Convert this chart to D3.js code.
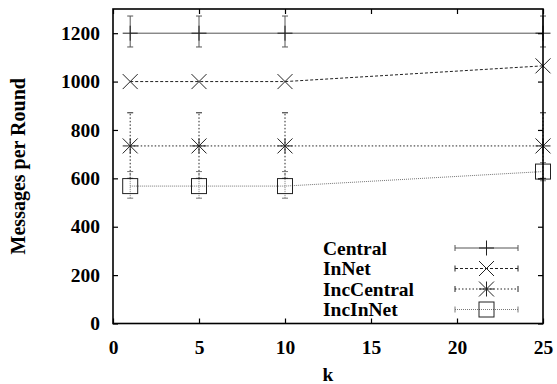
<!DOCTYPE html>
<html>
<head>
<meta charset="utf-8">
<script src="https://cdn.jsdelivr.net/npm/d3@7"></script>
<style>
  body { margin: 0; background: #fff; }
  text { font-family: "Liberation Serif", "Times New Roman", serif; font-weight: bold; }
</style>
</head>
<body>
<svg id="chart" width="557" height="384"></svg>
<script>
// data
var ks = [1, 5, 10, 25]

var central = [1200, 1200, 1200, 1200]
var centralLo = [1143, 1143, 1143, 1143]
var centralHi = [1271, 1271, 1271, 1271]

var inNet = [1000, 1000, 1000, 1065]

var incCentral = [734, 734, 734, 734]
var incCentralLo = [600, 600, 600, 600]
var incCentralHi = [871, 871, 871, 871]

var incInNet = [568, 568, 568, 628]
var incInNetLo = [518, 518, 518, 590]
var incInNetHi = [628, 628, 628, 665]

var xTicks = [0, 5, 10, 15, 20, 25]
var yTicks = [0, 200, 400, 600, 800, 1000, 1200]

var svg = d3.select('#chart')
var plotL = 113, plotR = 543, plotT = 9, plotB = 323.5

var x = d3.scaleLinear().domain([0, 25]).range([plotL, plotR])
var y = d3.scaleLinear().domain([0, 1300]).range([plotB, plotT])

// series styling
var series = [
    { name: 'Central', vals: central, lo: centralLo, hi: centralHi, dash: null, color: '#555', marker: 'plus' },
    { name: 'InNet', vals: inNet, lo: null, hi: null, dash: '3,2', color: '#222', marker: 'cross' },
    { name: 'IncCentral', vals: incCentral, lo: incCentralLo, hi: incCentralHi, dash: '1.5,2', color: '#222', marker: 'star' },
    { name: 'IncInNet', vals: incInNet, lo: incInNetLo, hi: incInNetHi, dash: '1,1', color: '#777', marker: 'square' }
]

function drawMarker(g, type, cx, cy) {
    var s = 7.5
    var p = g.append('g').attr('stroke', '#222').attr('stroke-width', 1).attr('fill', 'none')
    if (type === 'plus' || type === 'star') {
        p.append('line').attr('x1', cx - s).attr('x2', cx + s).attr('y1', cy).attr('y2', cy)
        p.append('line').attr('x1', cx).attr('x2', cx).attr('y1', cy - s).attr('y2', cy + s)
    }
    if (type === 'cross' || type === 'star') {
        p.append('line').attr('x1', cx - s).attr('x2', cx + s).attr('y1', cy - s).attr('y2', cy + s)
        p.append('line').attr('x1', cx - s).attr('x2', cx + s).attr('y1', cy + s).attr('y2', cy - s)
    }
    if (type === 'square') {
        p.append('rect').attr('x', cx - s).attr('y', cy - s).attr('width', 2 * s).attr('height', 2 * s)
    }
}

var plot = svg.append('g')

series.forEach(function(sr) {
    var line = d3.line()
        .x(function(d, i) { return x(ks[i]) })
        .y(function(d) { return y(d) })

    plot.append('path')
        .datum(sr.vals)
        .attr('d', line)
        .attr('fill', 'none')
        .attr('stroke', sr.color)
        .attr('stroke-width', 1)
        .attr('stroke-dasharray', sr.dash)

    if (sr.lo) {
        sr.vals.forEach(function(v, i) {
            var cx = x(ks[i])
            plot.append('line')
                .attr('x1', cx).attr('x2', cx)
                .attr('y1', y(sr.lo[i])).attr('y2', y(sr.hi[i]))
                .attr('stroke', sr.color).attr('stroke-width', 1)
                .attr('stroke-dasharray', sr.dash)
            ;[sr.lo[i], sr.hi[i]].forEach(function(e) {
                plot.append('line')
                    .attr('x1', cx - 3).attr('x2', cx + 3)
                    .attr('y1', y(e)).attr('y2', y(e))
                    .attr('stroke', sr.color).attr('stroke-width', 1)
            })
        })
    }

    sr.vals.forEach(function(v, i) {
        drawMarker(plot, sr.marker, x(ks[i]), y(v))
    })
})

// axes with mirrored ticks
var tickLen = 5
svg.append('g')
    .attr('transform', 'translate(0,' + plotB + ')')
    .call(d3.axisBottom(x).tickValues(xTicks).tickSize(-tickLen).tickPadding(tickLen + 12))
    .call(function(g) { g.select('.domain').remove() })
svg.append('g')
    .attr('transform', 'translate(0,' + plotT + ')')
    .call(d3.axisTop(x).tickValues(xTicks).tickSize(-tickLen).tickFormat(''))
    .call(function(g) { g.select('.domain').remove() })
svg.append('g')
    .attr('transform', 'translate(' + plotL + ',0)')
    .call(d3.axisLeft(y).tickValues(yTicks).tickSize(-tickLen).tickPadding(tickLen + 8).tickFormat(d3.format('d')))
    .call(function(g) { g.select('.domain').remove() })
svg.append('g')
    .attr('transform', 'translate(' + plotR + ',0)')
    .call(d3.axisRight(y).tickValues(yTicks).tickSize(-tickLen).tickFormat(''))
    .call(function(g) { g.select('.domain').remove() })

svg.selectAll('.tick line').attr('stroke', '#000').attr('stroke-width', 1.2)
svg.selectAll('.tick text')
    .style('font-family', '"Liberation Serif", "Times New Roman", serif')
    .style('font-weight', 'bold')
    .style('font-size', '19.5px')
    .attr('fill', '#000')

svg.append('rect')
    .attr('x', plotL).attr('y', plotT)
    .attr('width', plotR - plotL).attr('height', plotB - plotT)
    .attr('fill', 'none').attr('stroke', '#000').attr('stroke-width', 1.6)

// axis titles
svg.append('text')
    .attr('x', (plotL + plotR) / 2).attr('y', 381)
    .attr('text-anchor', 'middle').attr('font-size', 19.5)
    .text('k')
svg.append('text')
    .attr('transform', 'translate(25,' + (plotT + plotB) / 2 + ') rotate(-90)')
    .attr('text-anchor', 'middle').attr('font-size', 20)
    .text('Messages per Round')

// legend
var legend = svg.append('g')
series.forEach(function(sr, i) {
    var ly = 248 + i * 20.5
    legend.append('text')
        .attr('x', 323).attr('y', ly + 6.5)
        .attr('font-size', 19.5)
        .text(sr.name)
    legend.append('line')
        .attr('x1', 455).attr('x2', 518).attr('y1', ly).attr('y2', ly)
        .attr('stroke', sr.color).attr('stroke-width', 1)
        .attr('stroke-dasharray', sr.dash)
    ;[455, 518].forEach(function(ex) {
        legend.append('line')
            .attr('x1', ex).attr('x2', ex).attr('y1', ly - 3).attr('y2', ly + 3)
            .attr('stroke', sr.color).attr('stroke-width', 1)
    })
    drawMarker(legend, sr.marker, 486.5, ly)
})
</script>
</body>
</html>
